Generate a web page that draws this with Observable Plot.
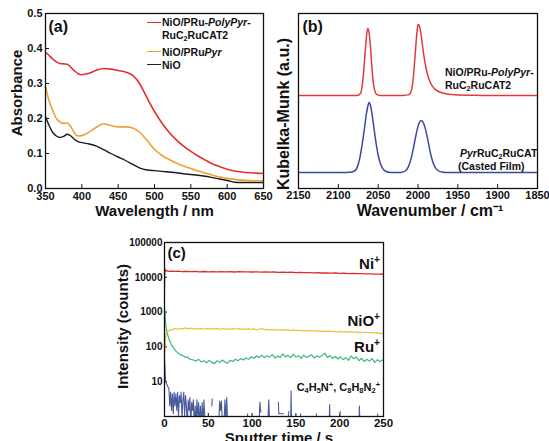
<!DOCTYPE html>
<html><head><meta charset="utf-8">
<script src="https://cdn.jsdelivr.net/npm/d3@7"></script>
<script src="https://cdn.jsdelivr.net/npm/@observablehq/plot@0.6"></script>
<style>
body{margin:0;background:#fff;}
#wrap{position:relative;width:549px;height:441px;overflow:hidden;background:#fff;font-family:"Liberation Sans",Arial,sans-serif;}
.panel{position:absolute;}
.lbl{position:absolute;font-weight:bold;white-space:nowrap;line-height:1;transform:translateY(-50%);color:#111;}
.lbl.r{transform:translate(-100%,-50%);}
.lbl sub{font-size:0.68em;vertical-align:-0.3em;line-height:0;}
.lbl sup{font-size:0.68em;vertical-align:0.5em;line-height:0;}
.sw{position:absolute;height:0;width:14px;}
</style></head><body>
<div id="wrap">
  <div class="panel" id="pa" style="left:0;top:0"></div>
  <div class="panel" id="pb" style="left:275px;top:0"></div>
  <div class="panel" id="pc" style="left:100px;top:225px"></div>

  <div class="sw" style="left:147px;top:21.5px;border-top:1.6px solid #e2302e"></div>
  <div class="lbl" style="left:162px;top:22px;font-size:10.5px">NiO/PRu-<i>PolyPyr</i>-</div>
  <div class="lbl" style="left:162px;top:35px;font-size:10.5px">RuC<sub>2</sub>RuCAT2</div>
  <div class="sw" style="left:147px;top:51px;border-top:1.6px solid #f0a030"></div>
  <div class="lbl" style="left:162px;top:52px;font-size:10.5px">NiO/PRu<i>Pyr</i></div>
  <div class="sw" style="left:147px;top:64px;border-top:1.6px solid #222"></div>
  <div class="lbl" style="left:162px;top:64.5px;font-size:10.5px">NiO</div>

  <div class="lbl" style="left:445px;top:72px;font-size:10.5px">NiO/PRu-<i>PolyPyr</i>-</div>
  <div class="lbl" style="left:445px;top:85px;font-size:10.5px">RuC<sub>2</sub>RuCAT2</div>
  <div class="lbl" style="left:460px;top:153px;font-size:10.5px"><i>Pyr</i>RuC<sub>2</sub>RuCAT</div>
  <div class="lbl" style="left:458px;top:166px;font-size:10.5px">(Casted Film)</div>

  <div class="lbl r" style="left:380px;top:263px;font-size:15px">Ni<sup>+</sup></div>
  <div class="lbl r" style="left:380px;top:320px;font-size:15px">NiO<sup>+</sup></div>
  <div class="lbl r" style="left:380px;top:346px;font-size:15px">Ru<sup>+</sup></div>
  <div class="lbl r" style="left:380px;top:387px;font-size:11px">C<sub>4</sub>H<sub>5</sub>N<sup>+</sup>, C<sub>8</sub>H<sub>8</sub>N<sub>2</sub><sup>+</sup></div>
</div>
<script>
// ---------- Panel (a): UV-vis absorbance ----------
const wavelength = [350,355,360,365,370,375,380,385,390,395,400,410,420,430,440,450,460,470,480,490,500,510,520,530,540,550,560,570,580,590,600,610,620,630,640,650];
const absPolyPyr = [0.390,0.380,0.370,0.362,0.357,0.356,0.355,0.346,0.336,0.328,0.325,0.329,0.338,0.343,0.341,0.337,0.333,0.323,0.298,0.258,0.220,0.188,0.161,0.139,0.121,0.106,0.093,0.081,0.070,0.062,0.055,0.050,0.047,0.045,0.044,0.043];
const absPyr = [0.290,0.250,0.222,0.200,0.190,0.186,0.187,0.176,0.158,0.150,0.151,0.161,0.175,0.185,0.180,0.176,0.176,0.173,0.160,0.137,0.112,0.095,0.083,0.073,0.064,0.057,0.050,0.044,0.038,0.033,0.029,0.026,0.024,0.023,0.022,0.022];
const absNiO = [0.205,0.180,0.160,0.150,0.146,0.149,0.155,0.150,0.140,0.134,0.131,0.127,0.121,0.111,0.100,0.090,0.080,0.069,0.058,0.053,0.051,0.049,0.047,0.045,0.042,0.040,0.038,0.035,0.031,0.027,0.023,0.018,0.017,0.017,0.017,0.017];
const xTicksA = [350,400,450,500,550,600,650];
const yTicksA = [0,0.1,0.2,0.3,0.4,0.5];

// ---------- Panel (b): DRIFTS Kubelka-Munk ----------
const wnPolyPyr = [2150,2120,2090,2080,2075,2072,2070,2068,2066,2064,2063,2062,2060,2058,2056,2054,2052,2048,2040,2030,2020,2012,2009,2007,2005,2003,2001,2000,1999,1997,1995,1993,1990,1988,1985,1982,1978,1972,1965,1955,1940,1920,1900,1880,1850];
const kmPolyPyr = [0.531,0.531,0.532,0.531,0.533,0.545,0.590,0.680,0.800,0.895,0.914,0.905,0.830,0.700,0.600,0.555,0.538,0.532,0.531,0.531,0.532,0.535,0.550,0.590,0.680,0.800,0.905,0.937,0.935,0.905,0.840,0.770,0.690,0.650,0.610,0.585,0.565,0.550,0.541,0.536,0.533,0.532,0.531,0.531,0.531];
const wnCast = [2150,2110,2090,2083,2079,2076,2073,2070,2067,2065,2063,2061.5,2060,2058,2056,2053,2050,2047,2044,2040,2035,2025,2020,2016,2012,2009,2006,2003,2000,1998,1996,1994,1991,1988,1985,1982,1979,1975,1970,1962,1940,1900,1850];
const kmCast = [0.091,0.091,0.092,0.094,0.102,0.125,0.175,0.255,0.350,0.420,0.470,0.491,0.480,0.435,0.370,0.270,0.190,0.140,0.112,0.097,0.092,0.091,0.093,0.100,0.125,0.165,0.225,0.295,0.355,0.380,0.389,0.382,0.345,0.285,0.215,0.160,0.125,0.103,0.094,0.091,0.091,0.091,0.091];
const xTicksB = [2150,2100,2050,2000,1950,1900,1850];

// ---------- Panel (c): ToF-SIMS depth profile [time s, counts] ----------
const niPlus = [[0,4500],[0.3,17500],[1,16500],[2,15000],[3,15500],[5,14800],[8,15100],[12,14700],[16,15000],[20,14600],[25,14900],[30,14500],[35,14800],[40,14400],[45,14700],[50,14400],[55,14600],[60,14300],[65,14600],[70,14400],[75,14500],[80,14200],[85,14500],[90,14300],[95,14400],[100,14200],[105,14400],[110,14100],[115,14300],[120,14000],[125,14200],[130,13900],[135,14100],[140,13800],[145,14000],[150,13700],[155,13900],[160,13600],[165,13700],[170,13400],[175,13600],[180,13300],[185,13400],[190,13100],[195,13300],[200,13000],[205,13100],[210,12800],[215,13000],[220,12700],[225,12800],[230,12500],[235,12600],[240,12300],[245,12400],[250,12200]];
const nioPlus = [[0,50],[0.5,90],[1,160],[1.5,210],[2,240],[3,270],[4,285],[5,295],[6,300],[7,310],[9,318],[12,335],[15,322],[18,340],[21,328],[24,352],[27,330],[30,345],[33,325],[36,338],[39,330],[42,342],[45,322],[48,336],[51,328],[54,340],[57,326],[60,334],[63,320],[66,338],[69,325],[72,332],[75,318],[78,336],[81,322],[84,340],[87,318],[90,330],[93,322],[96,335],[99,315],[102,328],[105,312],[108,322],[111,340],[114,312],[117,318],[120,305],[123,318],[126,302],[129,315],[132,300],[135,312],[138,298],[141,308],[144,296],[147,310],[150,295],[153,302],[156,290],[159,300],[162,288],[165,298],[168,284],[171,295],[174,280],[177,290],[180,278],[183,288],[186,274],[189,285],[192,272],[195,280],[198,268],[201,280],[204,266],[207,276],[210,262],[213,278],[216,260],[219,270],[222,258],[225,268],[228,255],[231,264],[234,252],[237,262],[240,248],[243,258],[246,242],[249,250],[250,246]];
const ruPlus = [[0,1300],[0.5,900],[1,600],[1.5,420],[2,330],[3,250],[4,210],[5,170],[6,150],[7,130],[8,115],[9,105],[10,95],[12,82],[14,72],[16,66],[18,60],[20,57],[22,54],[24,50],[26,52],[28,46],[30,44],[33,42],[36,39],[39,44],[42,37],[45,40],[48,35],[51,41],[54,36],[57,33],[60,40],[63,36],[66,42],[69,37],[72,34],[75,41],[78,38],[81,44],[84,40],[87,46],[90,42],[93,48],[96,44],[99,52],[102,47],[105,55],[108,50],[111,58],[114,49],[117,56],[120,51],[123,60],[126,48],[129,55],[132,50],[135,63],[138,52],[141,57],[144,49],[147,62],[150,51],[153,56],[156,47],[159,58],[162,50],[165,54],[168,59],[171,48],[174,55],[177,51],[180,57],[183,66],[186,50],[189,56],[192,47],[195,53],[198,45],[201,52],[204,43],[207,49],[210,41],[213,55],[216,46],[219,51],[222,40],[225,47],[228,38],[231,44],[234,39],[237,46],[240,36],[243,43],[246,38],[249,42],[250,40]];
const organicPlus = [[0,45],[0.5,28],[1,12],[2,9],[3,8],[4,7],[5,6.5],[6,2],[7,5],[8,1.5],[9,4.5],[10,1.2],[11,5],[12,2],[13,4.5],[14,1.5],[15,5],[16,1],[17,4],[18,2.5],[19,5],[20,0.8],[21,3],[22,5],[23,1],[24,4],[25,2],[26,0.5],[27,3],[28,1.5],[29,3.5],[30,0.5],[31,2.5],[32,1.5],[33,3],[34,0.5],[35,2],[36,0.5],[37,3],[38,1],[39,2.5],[40,0.5],[41,2],[42,0.5],[43,2.5],[44,0.5],[45,3],[46,1],[47,0.5],[48,null],
 [54,2],[54.5,3.2],[55,null],
 [62,0.7],[63,2.8],[64,1.5],[65,2.8],[66,0.7],[67,null],
 [68,0.7],[69,3],[70,0.7],[71,3.5],[72,0.7],[73,null],
 [94,0.8],[95,1.2],[96,null],
 [108,0.7],[109,2.6],[110,1.3],[111,null],
 [118,0.7],[119,3],[120,0.7],[121,null],
 [130,2.6],[130.5,1.2],[136,1.2],[136.5,null],
 [141,0.8],[142,1.4],[143,null],
 [144,0.7],[144.5,5.5],[145,0.7],[146,null],
 [155,0.9],[155.5,1.2],[156,null],
 [173,0.9],[173.5,1.2],[174,null],
 [188,0.7],[188.5,2.2],[189,0.7],[190,null],
 [200,0.8],[200.5,1.4],[201,null],
 [222,0.7],[222.5,2],[223,0.7],[224,null],
 [243,0.9],[243.5,1.2],[244,null]];
const xTicksC = [0,50,100,150,200,250];
const yTicksC = [10,100,1000,10000,100000];

const FONT = "'Liberation Sans', Arial, sans-serif";
const baseStyle = {fontFamily: FONT, fontWeight: "bold", fontSize: "11px", color: "#111", background: "transparent", overflow: "visible"};
const toXY = (xs, ys) => xs.map((x, i) => ({x, y: ys[i]}));
const pairs = a => a.map(([x, y]) => ({x, y}));
const T = {fontWeight: "bold", fill: "#111", lineAnchor: "middle"};

// Panel (a)
const A_W = 275, A_H = 220, A_L = 45, A_R = 12, A_T = 13, A_B = 32;
const plotA = Plot.plot({
  width: A_W, height: A_H, marginLeft: A_L, marginRight: A_R, marginTop: A_T, marginBottom: A_B,
  style: baseStyle,
  x: {domain: [350, 650]},
  y: {domain: [0, 0.5]},
  marks: [
    Plot.axisX({ticks: xTicksA, tickSize: 0, tickPadding: 4, tickFormat: "d", label: null}),
    Plot.axisY({ticks: yTicksA, tickSize: 0, tickPadding: 3, tickFormat: ".1f", label: null}),
    Plot.tickX(xTicksA, {x: d => d, insetTop: A_H - A_T - A_B - 4, stroke: "#111"}),
    Plot.tickY(yTicksA, {y: d => d, insetRight: A_W - A_L - A_R - 4, stroke: "#111"}),
    Plot.line(toXY(wavelength, absNiO), {x: "x", y: "y", stroke: "#1a1a1a", strokeWidth: 1.4, curve: "monotone-x"}),
    Plot.line(toXY(wavelength, absPyr), {x: "x", y: "y", stroke: "#f0a030", strokeWidth: 1.6, curve: "monotone-x"}),
    Plot.line(toXY(wavelength, absPolyPyr), {x: "x", y: "y", stroke: "#e2302e", strokeWidth: 1.6, curve: "monotone-x"}),
    Plot.frame({stroke: "#111", strokeWidth: 1.3}),
    Plot.text(["Wavelength / nm"], {...T, frameAnchor: "bottom", textAnchor: "middle", dy: 23, fontSize: 15}),
    Plot.text(["Absorbance"], {...T, frameAnchor: "left", textAnchor: "middle", rotate: -90, dx: -28, dy: -8, fontSize: 15}),
    Plot.text(["(a)"], {...T, frameAnchor: "top-left", textAnchor: "start", dx: 3, dy: 13, fontSize: 16})
  ]
});
document.getElementById("pa").appendChild(plotA);

// Panel (b)
const B_W = 274, B_H = 220, B_L = 23, B_R = 12, B_T = 13, B_B = 32;
const plotB = Plot.plot({
  width: B_W, height: B_H, marginLeft: B_L, marginRight: B_R, marginTop: B_T, marginBottom: B_B,
  style: baseStyle,
  x: {domain: [2150, 1850]},
  y: {domain: [0, 1], axis: null},
  marks: [
    Plot.axisX({ticks: xTicksB, tickSize: 0, tickPadding: 2.5, tickFormat: "d", label: null}),
    Plot.tickX(xTicksB, {x: d => d, insetTop: B_H - B_T - B_B - 4, stroke: "#111"}),
    Plot.line(toXY(wnCast, kmCast), {x: "x", y: "y", stroke: "#3c46a6", strokeWidth: 1.5, curve: "monotone-x"}),
    Plot.line(toXY(wnPolyPyr, kmPolyPyr), {x: "x", y: "y", stroke: "#e23a3a", strokeWidth: 1.5, curve: "monotone-x"}),
    Plot.frame({stroke: "#111", strokeWidth: 1.3}),
    Plot.text(["Wavenumber / cm\u207B\u00B9"], {...T, frameAnchor: "bottom", textAnchor: "middle", dx: 12, dy: 22.5, fontSize: 16}),
    Plot.text(["Kubelka-Munk (a.u.)"], {...T, frameAnchor: "left", textAnchor: "middle", rotate: -90, dx: -15, dy: 13, fontSize: 16}),
    Plot.text(["(b)"], {...T, frameAnchor: "top-left", textAnchor: "start", dx: 4, dy: 13, fontSize: 16})
  ]
});
document.getElementById("pb").appendChild(plotB);

// Panel (c)
const C_W = 300, C_H = 216, C_L = 64, C_R = 17, C_T = 17, C_B = 25;
const plotC = Plot.plot({
  width: C_W, height: C_H, marginLeft: C_L, marginRight: C_R, marginTop: C_T, marginBottom: C_B,
  style: baseStyle,
  x: {domain: [0, 250]},
  y: {type: "log", domain: [1, 100000]},
  marks: [
    Plot.axisX({ticks: xTicksC, tickSize: 0, tickPadding: 2, tickFormat: "d", label: null, fontSize: 11.5}),
    Plot.axisY({ticks: yTicksC, tickSize: 0, tickPadding: 2, tickFormat: "d", label: null, fontSize: 10}),
    Plot.tickX(xTicksC, {x: d => d, insetTop: C_H - C_T - C_B - 3, stroke: "#111"}),
    Plot.tickY(yTicksC, {y: d => d, insetRight: C_W - C_L - C_R - 3, stroke: "#111"}),
    Plot.line(pairs(organicPlus), {x: "x", y: "y", stroke: "#4a5c9e", strokeWidth: 1.1, clip: true}),
    Plot.line(pairs(ruPlus), {x: "x", y: "y", stroke: "#3cb878", strokeWidth: 1.2, clip: true}),
    Plot.line(pairs(nioPlus), {x: "x", y: "y", stroke: "#e8c23c", strokeWidth: 1.2, clip: true}),
    Plot.line(pairs(niPlus), {x: "x", y: "y", stroke: "#e02c2c", strokeWidth: 1.3, clip: true}),
    Plot.frame({stroke: "#111", strokeWidth: 1.3}),
    Plot.text(["Sputter time / s"], {...T, frameAnchor: "bottom", textAnchor: "middle", dx: 5, dy: 21.5, fontSize: 15}),
    Plot.text(["Intensity (counts)"], {...T, frameAnchor: "left", textAnchor: "middle", rotate: -90, dx: -41, dy: -3, fontSize: 15}),
    Plot.text(["(c)"], {...T, frameAnchor: "top-left", textAnchor: "start", dx: 3, dy: 11, fontSize: 15})
  ]
});
document.getElementById("pc").appendChild(plotC);
</script>
</body></html>
